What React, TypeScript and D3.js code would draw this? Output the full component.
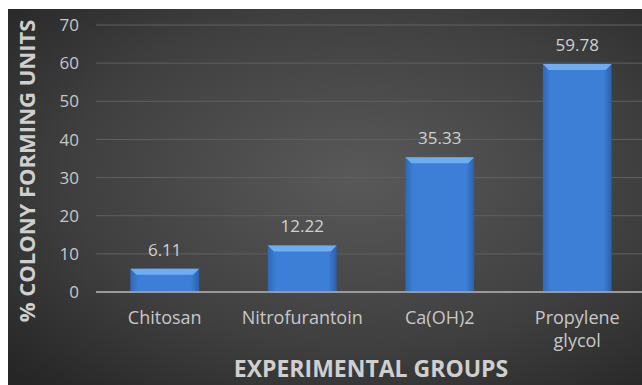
import React from "react";
import * as d3 from "d3";

const categories: string[][] = [["Chitosan"], ["Nitrofurantoin"], ["Ca(OH)2"], ["Propylene", "glycol"]];
const values: number[] = [6.11, 12.22, 35.33, 59.78];
const valueLabels: string[] = ["6.11", "12.22", "35.33", "59.78"];
const yTicks: number[] = [0, 10, 20, 30, 40, 50, 60, 70];
const yTitle = "% COLONY FORMING UNITS";
const xTitle = "EXPERIMENTAL GROUPS";

const W = 642, H = 385;
const plotLeft = 96, plotRight = 646, y0 = 292, yTop = 25;

export default function App() {
  const x = d3.scaleBand<number>().domain(values.map((_, i) => i)).range([plotLeft, plotRight]).paddingInner(0.5).paddingOuter(0.25);
  const y = d3.scaleLinear().domain([0, 70]).range([y0, yTop]);
  const font = "'Open Sans', 'Noto Sans', sans-serif";
  const bw = x.bandwidth();
  const bev = 6;
  return (
    <svg width={W} height={H} style={{ position: "absolute", left: 0, top: 0 }}>
      <defs>
        <radialGradient id="bg" cx="0.55" cy="0.45" r="0.75">
          <stop offset="0" stopColor="#595959" />
          <stop offset="0.6" stopColor="#3f3f3f" />
          <stop offset="1" stopColor="#262626" />
        </radialGradient>
        <linearGradient id="barg" x1="0" x2="1" y1="0" y2="0">
          <stop offset="0" stopColor="#2f68b8" />
          <stop offset="0.12" stopColor="#3d7fd6" />
          <stop offset="0.88" stopColor="#3d7fd6" />
          <stop offset="1" stopColor="#2c60aa" />
        </linearGradient>
      </defs>
      <rect x={0} y={0} width={W} height={H} fill="#ffffff" />
      <rect x={8} y={9} width={W - 8} height={H - 9} fill="url(#bg)" />
      {yTicks.map((t) => (
        <g key={t}>
          {t > 0 && <line x1={plotLeft} x2={plotRight} y1={y(t)} y2={y(t)} stroke="#606060" strokeWidth={1} />}
          <text x={79} y={y(t)} dy="0.36em" textAnchor="end" fill="#c8c8c8" fontFamily={font} fontSize={17}>{t}</text>
        </g>
      ))}
      {values.map((v, i) => {
        const bx = x(i)!;
        const by = y(v);
        return (
          <g key={i}>
            <rect x={bx} y={by} width={bw} height={y0 - by} fill="url(#barg)" />
            <polygon points={`${bx},${by} ${bx + bw},${by} ${bx + bw - bev},${by + bev} ${bx + bev},${by + bev}`} fill="#6fadf2" />
            <text x={bx + bw / 2} y={by - 13} textAnchor="middle" fill="#d0d0d0" fontFamily={font} fontSize={17}>{valueLabels[i]}</text>
            {categories[i].map((line, j) => (
              <text key={j} x={bx + bw / 2} y={324 + j * 23} textAnchor="middle" fill="#c8c8c8" fontFamily={font} fontSize={18}>{line}</text>
            ))}
          </g>
        );
      })}
      <line x1={plotLeft} x2={plotRight} y1={y0} y2={y0} stroke="#9a9a9a" strokeWidth={2} />
      <text x={371} y={377} textAnchor="middle" fill="#cfcfcf" fontFamily={font} fontWeight="bold" fontSize={23}>{xTitle}</text>
      <text transform={`translate(27,171) rotate(-90)`} dy="0.36em" textAnchor="middle" fill="#cfcfcf" fontFamily={font} fontWeight="bold" fontSize={22}>{yTitle}</text>
    </svg>
  );
}
